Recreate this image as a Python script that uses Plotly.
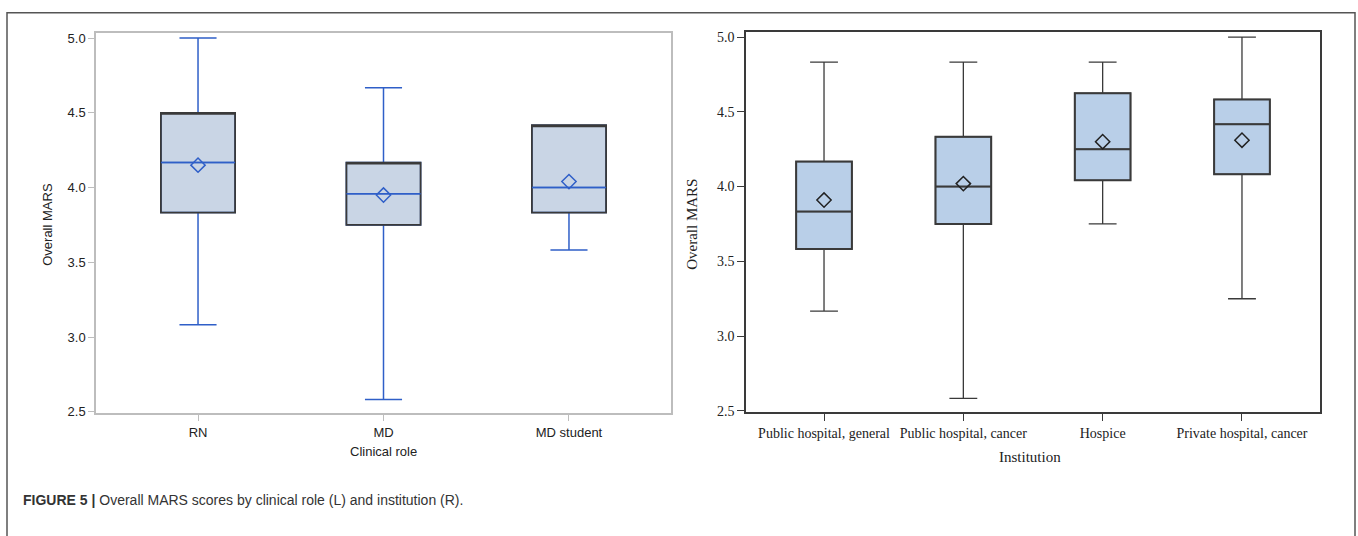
import plotly.graph_objects as go

# ---- data: left panel (clinical role) ----
roles = ["RN", "MD", "MD student"]
role_min = [3.083, 2.583, 3.583]
role_q1 = [3.833, 3.75, 3.833]
role_median = [4.167, 3.958, 4.0]
role_q3 = [4.5, 4.167, 4.417]
role_max = [5.0, 4.667, 4.417]
role_mean = [4.15, 3.95, 4.04]

# ---- data: right panel (institution) ----
insts = ["Public hospital, general", "Public hospital, cancer", "Hospice", "Private hospital, cancer"]
inst_min = [3.167, 2.583, 3.75, 3.25]
inst_q1 = [3.583, 3.75, 4.042, 4.083]
inst_median = [3.833, 4.0, 4.25, 4.417]
inst_q3 = [4.167, 4.333, 4.625, 4.583]
inst_max = [4.833, 4.833, 4.833, 5.0]
inst_mean = [3.91, 4.02, 4.30, 4.31]

y_ticks = [2.5, 3.0, 3.5, 4.0, 4.5, 5.0]

W, H = 1358, 536
def px(x): return x / W
def py(y): return 1 - y / H

BLUE = "#2F5FC8"
DARK = "#3A3A3A"
SANS = "Liberation Sans, Arial, sans-serif"
SERIF = "Liberation Serif, Times New Roman, serif"
NONE = "rgba(0,0,0,0)"

fig = go.Figure()

def box(x, q1, med, q3, lo, hi, fill, color, lw, ww, ax):
    return go.Box(x=x, q1=q1, median=med, q3=q3, lowerfence=lo, upperfence=hi,
                  width=0.4, whiskerwidth=ww, fillcolor=fill,
                  line=dict(color=color, width=lw), xaxis=ax[0], yaxis=ax[1],
                  showlegend=False, hoverinfo="skip")

L = ("x", "y")
R = ("x2", "y2")

# left panel: fill + blue whiskers, dark box outline, blue median on top
fig.add_trace(box(roles, role_q1, role_median, role_q3, role_min, role_max, "#C9D5E5", BLUE, 1.5, 0.5, L))
fig.add_trace(box(roles, role_q1, role_q3, role_q3, role_q1, role_q3, NONE, DARK, 1.8, 0, L))
fig.add_trace(box(roles, role_median, role_median, role_median, role_median, role_median, NONE, BLUE, 1.5, 0, L))
fig.add_trace(go.Scatter(
    x=roles, y=role_mean, mode="markers",
    marker=dict(symbol="diamond-open", size=11, color=BLUE, line=dict(width=1.5, color=BLUE)),
    xaxis="x", yaxis="y", showlegend=False, hoverinfo="skip"))

# right panel: fill + thin whiskers, thicker outline and median
fig.add_trace(box(insts, inst_q1, inst_median, inst_q3, inst_min, inst_max, "#B9CFE8", DARK, 1.3, 0.5, R))
fig.add_trace(box(insts, inst_q1, inst_median, inst_q3, inst_q1, inst_q3, NONE, DARK, 2, 0, R))
fig.add_trace(go.Scatter(
    x=insts, y=inst_mean, mode="markers",
    marker=dict(symbol="diamond-open", size=11, color="#222", line=dict(width=1.5, color="#222")),
    xaxis="x2", yaxis="y2", showlegend=False, hoverinfo="skip"))

yr = [2.491, 5.031]
ann_common = dict(xref="paper", yref="paper", showarrow=False, xanchor="center", yanchor="middle")
fig.update_layout(
    width=W, height=H, margin=dict(l=0, r=0, t=0, b=0),
    paper_bgcolor="white", plot_bgcolor="white",
    boxmode="overlay",
    xaxis=dict(domain=[px(96), px(671)], range=[-0.55, 2.55], anchor="y",
               showline=True, mirror=True, linecolor="#BDBDBD", linewidth=1.5,
               ticks="outside", ticklen=6, tickcolor="#BDBDBD", showgrid=False,
               tickfont=dict(family=SANS, size=13, color="#222")),
    yaxis=dict(domain=[py(418), py(31)], range=yr, anchor="x",
               tickvals=y_ticks, ticktext=[f"{v:.1f}" for v in y_ticks],
               showline=True, mirror=True, linecolor="#BDBDBD", linewidth=1.5,
               ticks="outside", ticklen=6, tickcolor="#BDBDBD", showgrid=False, zeroline=False,
               tickfont=dict(family=SANS, size=13, color="#222")),
    xaxis2=dict(domain=[px(746), px(1320)], range=[-0.56, 3.56], anchor="y2",
                showline=True, mirror=True, linecolor=DARK, linewidth=1.5,
                ticks="outside", ticklen=7, tickcolor=DARK, showgrid=False,
                tickfont=dict(family=SERIF, size=14, color="#222")),
    yaxis2=dict(domain=[py(417), py(30)], range=yr, anchor="x2",
                tickvals=y_ticks, ticktext=[f"{v:.1f}" for v in y_ticks],
                showline=True, mirror=True, linecolor=DARK, linewidth=1.5,
                ticks="outside", ticklen=7, tickcolor=DARK, showgrid=False, zeroline=False,
                tickfont=dict(family=SERIF, size=14, color="#222")),
    shapes=[dict(type="rect", xref="paper", yref="paper",
                 x0=px(7), x1=px(1355), y0=py(545), y1=py(10),
                 line=dict(color="#555", width=1.5), fillcolor=NONE, layer="below")],
    annotations=[
        dict(text="Overall MARS", x=px(48), y=py(226), textangle=-90,
             font=dict(family=SANS, size=13, color="#222"), **ann_common),
        dict(text="Clinical role", x=px(383), y=py(457),
             font=dict(family=SANS, size=13, color="#222"), **ann_common),
        dict(text="Overall MARS", x=px(692), y=py(226), textangle=-90,
             font=dict(family=SERIF, size=15, color="#222"), **ann_common),
        dict(text="Institution", x=px(1030), y=py(463),
             font=dict(family=SERIF, size=15, color="#222"), **ann_common),
        dict(text="<b>FIGURE 5 |</b> Overall MARS scores by clinical role (L) and institution (R).",
             xref="paper", yref="paper", x=px(21), y=py(506), xanchor="left", yanchor="middle",
             showarrow=False, font=dict(family=SANS, size=14, color="#333")),
    ],
)

fig.write_html("out.html", config={"displayModeBar": False},
               post_script="document.body.style.margin='0';")
